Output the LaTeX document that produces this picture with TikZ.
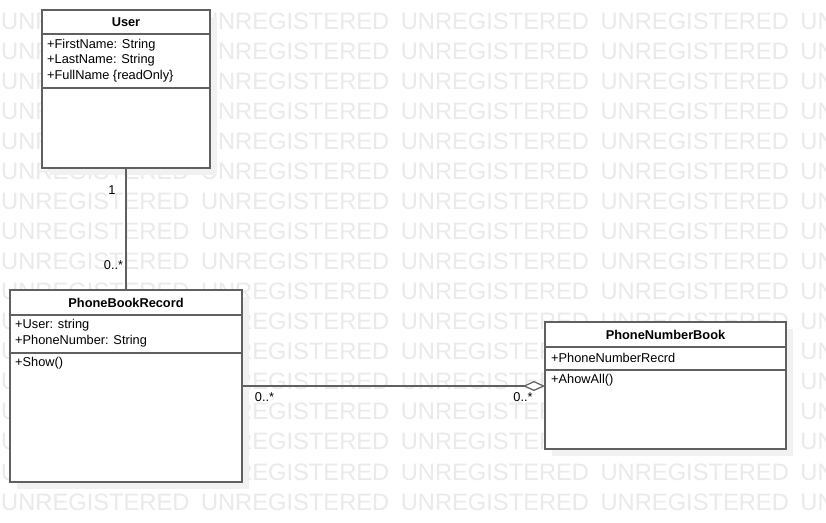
\documentclass[tikz,border=0pt]{standalone}
\usepackage{fontspec}
\setmainfont{Liberation Sans}
\usetikzlibrary{arrows.meta,shadows,calc}
\definecolor{wmcol}{RGB}{234,234,234}
\definecolor{linecol}{RGB}{96,96,96}
\definecolor{shcol}{RGB}{241,241,241}
\tikzset{
  classbox/.style={draw=linecol, line width=1.5pt, fill=white, anchor=north west,
    inner sep=0pt, outer sep=0pt,
    general shadow={shadow xshift=7pt, shadow yshift=-7pt, fill=shcol, opacity=1, draw=none}},
  divline/.style={draw=linecol, line width=1.5pt},
  hdr/.style={font=\fontsize{12.8}{15}\selectfont\bfseries, inner sep=0pt},
  attr/.style={anchor=west, font=\fontsize{12.8}{15}\selectfont, inner sep=0pt},
  mult/.style={font=\fontsize{12.8}{15}\selectfont, inner sep=0pt},
  assoc/.style={draw=linecol, line width=1.5pt},
  wm/.style={anchor=base west, text=wmcol, font=\fontsize{23.7}{24}\selectfont, inner sep=0pt},
}
\begin{document}
\begin{tikzpicture}[x=1pt,y=-1pt]
  \useasboundingbox[fill=white] (0,0) rectangle (826,522);
  \begin{scope}
    \clip (0,0) rectangle (826,522);
    \foreach \r in {0,...,16}{
      \foreach \c in {0,...,4}{
        \node[wm] (wm-\r-\c) at ({1+199.8*\c},{29+30.07*\r}) {UNREGISTERED};
      }
    }
  \end{scope}

  % User
  \node[classbox, minimum width=168pt, minimum height=158pt] (user) at (42,10) {};
  \draw[divline] ($(user.north west)+(0,24)$) -- ($(user.north east)+(0,24)$);
  \draw[divline] ($(user.north west)+(0,78)$) -- ($(user.north east)+(0,78)$);
  \node[hdr] (userT) at (126,22) {User};
  \node[attr] (userA1) at (47,45) {+FirstName: String};
  \node[attr] (userA2) at (47,60.5) {+LastName: String};
  \node[attr] (userA3) at (47,76) {+FullName \{readOnly\}};

  % PhoneBookRecord
  \node[classbox, minimum width=232pt, minimum height=192pt] (pbr) at (10,290) {};
  \draw[divline] ($(pbr.north west)+(0,25)$) -- ($(pbr.north east)+(0,25)$);
  \draw[divline] ($(pbr.north west)+(0,63)$) -- ($(pbr.north east)+(0,63)$);
  \node[hdr] (pbrT) at (126,302.5) {PhoneBookRecord};
  \node[attr] (pbrA1) at (15,325.5) {+User: string};
  \node[attr] (pbrA2) at (15,341) {+PhoneNumber: String};
  \node[attr] (pbrO1) at (15,363.5) {+Show()};

  % PhoneNumberBook
  \node[classbox, minimum width=241pt, minimum height=127pt] (pnb) at (545,322) {};
  \draw[divline] ($(pnb.north west)+(0,25)$) -- ($(pnb.north east)+(0,25)$);
  \draw[divline] ($(pnb.north west)+(0,48)$) -- ($(pnb.north east)+(0,48)$);
  \node[hdr] (pnbT) at (665.5,334.5) {PhoneNumberBook};
  \node[attr] (pnbA1) at (551,357.5) {+PhoneNumberRecrd};
  \node[attr] (pnbO1) at (551,380.5) {+AhowAll()};

  % connectors
  \draw[assoc] (user.south) -- (pbr.north);
  \node[mult] (m1) at (112,190) {1};
  \node[mult] (m2) at (113.5,265) {0..*};
  \coordinate (pnbIn) at (pnb.west |- pbr.east);
  \draw[assoc, -{Diamond[open, length=22pt, width=10pt, line width=1.2pt, fill=white]}] (pbr.east) -- (pnbIn);
  \node[mult] (m3) at (264.5,397.5) {0..*};
  \node[mult] (m4) at (523,397.5) {0..*};
\end{tikzpicture}
\end{document}
